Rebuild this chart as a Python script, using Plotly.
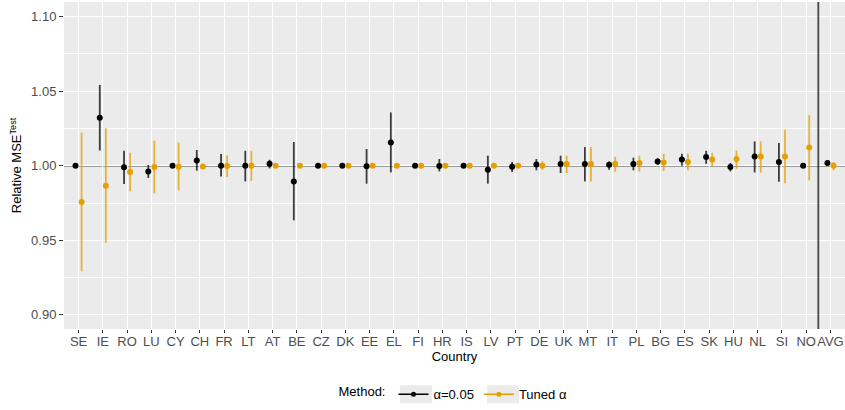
import plotly.graph_objects as go

countries = ["SE", "IE", "RO", "LU", "CY", "CH", "FR", "LT", "AT", "BE", "CZ", "DK", "EE", "EL",
             "FI", "HR", "IS", "LV", "PT", "DE", "UK", "MT", "IT", "PL", "BG", "ES", "SK", "HU",
             "NL", "SI", "NO", "AVG"]

# alpha = 0.05
fix_mid = [1.0000, 1.0321, 0.9989, 0.9962, 1.0000, 1.0035, 1.0000, 1.0000, 1.0013, 0.9895, 1.0000,
           1.0000, 0.9996, 1.0156, 1.0000, 0.9998, 1.0000, 0.9973, 0.9993, 1.0009, 1.0011, 1.0011,
           1.0007, 1.0011, 1.0029, 1.0042, 1.0058, 0.9991, 1.0062, 1.0025, 1.0000, 1.0018]
fix_lo = [1.0000, 1.0102, 0.9878, 0.9918, 0.9995, 0.9967, 0.9928, 0.9895, 0.9982, 0.9634, 0.9998,
          0.9998, 0.9880, 0.9955, 0.9998, 0.9962, 0.9998, 0.9880, 0.9958, 0.9969, 0.9951, 0.9895,
          0.9973, 0.9969, 1.0005, 1.0000, 1.0013, 0.9962, 0.9955, 0.9893, 0.9998, 1.0010]
fix_hi = [1.0000, 1.0542, 1.0100, 1.0005, 1.0005, 1.0105, 1.0078, 1.0100, 1.0040, 1.0159, 1.0002,
          1.0002, 1.0112, 1.0357, 1.0002, 1.0045, 1.0002, 1.0067, 1.0025, 1.0045, 1.0067, 1.0125,
          1.0029, 1.0054, 1.0049, 1.0080, 1.0100, 1.0018, 1.0163, 1.0152, 1.0002, 1.0025]

# tuned alpha
tun_mid = [0.9757, 0.9866, 0.9958, 0.9991, 0.9993, 0.9995, 0.9998, 1.0000, 1.0000, 1.0000, 1.0000,
           1.0000, 1.0000, 1.0000, 1.0000, 1.0000, 1.0000, 1.0000, 1.0000, 1.0000, 1.0011, 1.0011,
           1.0013, 1.0018, 1.0022, 1.0025, 1.0042, 1.0045, 1.0062, 1.0062, 1.0122, 1.0000]
tun_lo = [0.9293, 0.9483, 0.9828, 0.9815, 0.9835, 0.9995, 0.9924, 0.9898, 1.0000, 1.0000, 1.0000,
          1.0000, 1.0000, 1.0000, 1.0000, 1.0000, 1.0000, 1.0000, 1.0000, 0.9973, 0.9951, 0.9895,
          0.9960, 0.9960, 0.9965, 0.9969, 0.9995, 0.9980, 0.9955, 0.9882, 0.9902, 0.9969]
tun_hi = [1.0223, 1.0252, 1.0087, 1.0169, 1.0156, 0.9995, 1.0069, 1.0100, 1.0000, 1.0000, 1.0000,
          1.0000, 1.0000, 1.0000, 1.0000, 1.0000, 1.0000, 1.0000, 1.0000, 1.0031, 1.0067, 1.0125,
          1.0060, 1.0067, 1.0080, 1.0080, 1.0087, 1.0102, 1.0163, 1.0241, 1.0341, 1.0025]

y_ticks = [0.90, 0.95, 1.00, 1.05, 1.10]
y_ticklabels = ["0.90", "0.95", "1.00", "1.05", "1.10"]
reference_value = 1.0
separator_position = len(countries) - 1.5  # between NO and AVG

BLACK = "#000000"
ORANGE = "#E69F00"

fig = go.Figure()


def err(mid, lo, hi):
    return dict(type="data", symmetric=False,
                array=[h - m for m, h in zip(mid, hi)],
                arrayminus=[m - l for m, l in zip(mid, lo)])


fig.add_trace(go.Scatter(
    x=countries, y=fix_mid, mode="markers", name="α=0.05", showlegend=False,
    marker=dict(color=BLACK, size=6),
    error_y=dict(**err(fix_mid, fix_lo, fix_hi), color="rgba(0,0,0,0.75)", thickness=1.8, width=0),
))
fig.add_trace(go.Scatter(
    x=countries, y=tun_mid, mode="markers", name="Tuned α", showlegend=False,
    marker=dict(color=ORANGE, size=6),
    error_y=dict(**err(tun_mid, tun_lo, tun_hi), color="rgba(230,159,0,0.75)", thickness=1.8, width=0),
))

# legend-only entries (on a hidden overlay axis so they do not affect dodging)
fig.add_trace(go.Scatter(x=[None], y=[None], mode="lines+markers", name="α=0.05",
                         line=dict(color=BLACK, width=1.5), marker=dict(color=BLACK, size=5),
                         xaxis="x2", yaxis="y2"))
fig.add_trace(go.Scatter(x=[None], y=[None], mode="lines+markers", name="Tuned α",
                         line=dict(color=ORANGE, width=1.5), marker=dict(color=ORANGE, size=5),
                         xaxis="x2", yaxis="y2"))

fig.add_hline(y=reference_value, line=dict(color="rgba(0,0,0,0.7)", width=1.6), layer="below")
fig.add_vline(x=separator_position, line=dict(color="rgba(0,0,0,0.7)", width=1.8), layer="above")

# grey legend key backgrounds (ggplot style)
for x0, x1 in [(0.4302, 0.4712), (0.5416, 0.5826)]:
    fig.add_shape(type="rect", xref="paper", yref="paper", x0=x0, x1=x1, y0=-0.227, y1=-0.172,
                  fillcolor="#EBEBEB", line=dict(width=0), layer="below")

fig.update_layout(
    width=845, height=410,
    margin=dict(l=64, r=0, t=2, b=81),
    paper_bgcolor="white",
    plot_bgcolor="#EBEBEB",
    font=dict(family="Liberation Sans, Arial, sans-serif", color="#000000"),
    scattermode="group",
    scattergap=0.5,
    xaxis=dict(
        type="category", categoryorder="array", categoryarray=countries,
        range=[-0.6, len(countries) - 1 + 0.6],
        showgrid=True, gridcolor="white", gridwidth=1.1,
        ticks="outside", ticklen=3, tickcolor="#333333", tickwidth=1,
        tickangle=0, automargin=False, ticklabelstandoff=-3,
        tickfont=dict(size=13, color="#4D4D4D"),
        title=dict(text="Country", font=dict(size=13, color="#000000"), standoff=0),
        zeroline=False, showline=False, fixedrange=True,
    ),
    yaxis=dict(
        range=[0.8905, 1.1098],
        tickmode="array", tickvals=y_ticks, ticktext=y_ticklabels,
        showgrid=True, gridcolor="white", gridwidth=1.1,
        minor=dict(dtick=0.025, tick0=0.9, showgrid=True, gridcolor="white", gridwidth=0.5),
        ticks="outside", ticklen=4, tickcolor="#333333", tickwidth=1,
        automargin=False,
        tickfont=dict(size=13, color="#4D4D4D"),
        title=dict(text="Relative MSE<sup>Test</sup>", font=dict(size=13, color="#000000"), standoff=6),
        zeroline=False, showline=False, fixedrange=True,
    ),
    xaxis2=dict(overlaying="x", visible=False, range=[0, 1]),
    yaxis2=dict(overlaying="y", visible=False, range=[0, 1]),
    legend=dict(
        orientation="h", x=0.5, xanchor="center", y=-0.2, yanchor="middle",
        title=dict(text="Method:", font=dict(size=13, color="#000000")),
        font=dict(size=13, color="#000000"),
        bgcolor="rgba(0,0,0,0)",
        itemwidth=30,
    ),
)

fig.write_html("out.html", config={"displayModeBar": False},
               post_script="document.body.style.margin='0';")
